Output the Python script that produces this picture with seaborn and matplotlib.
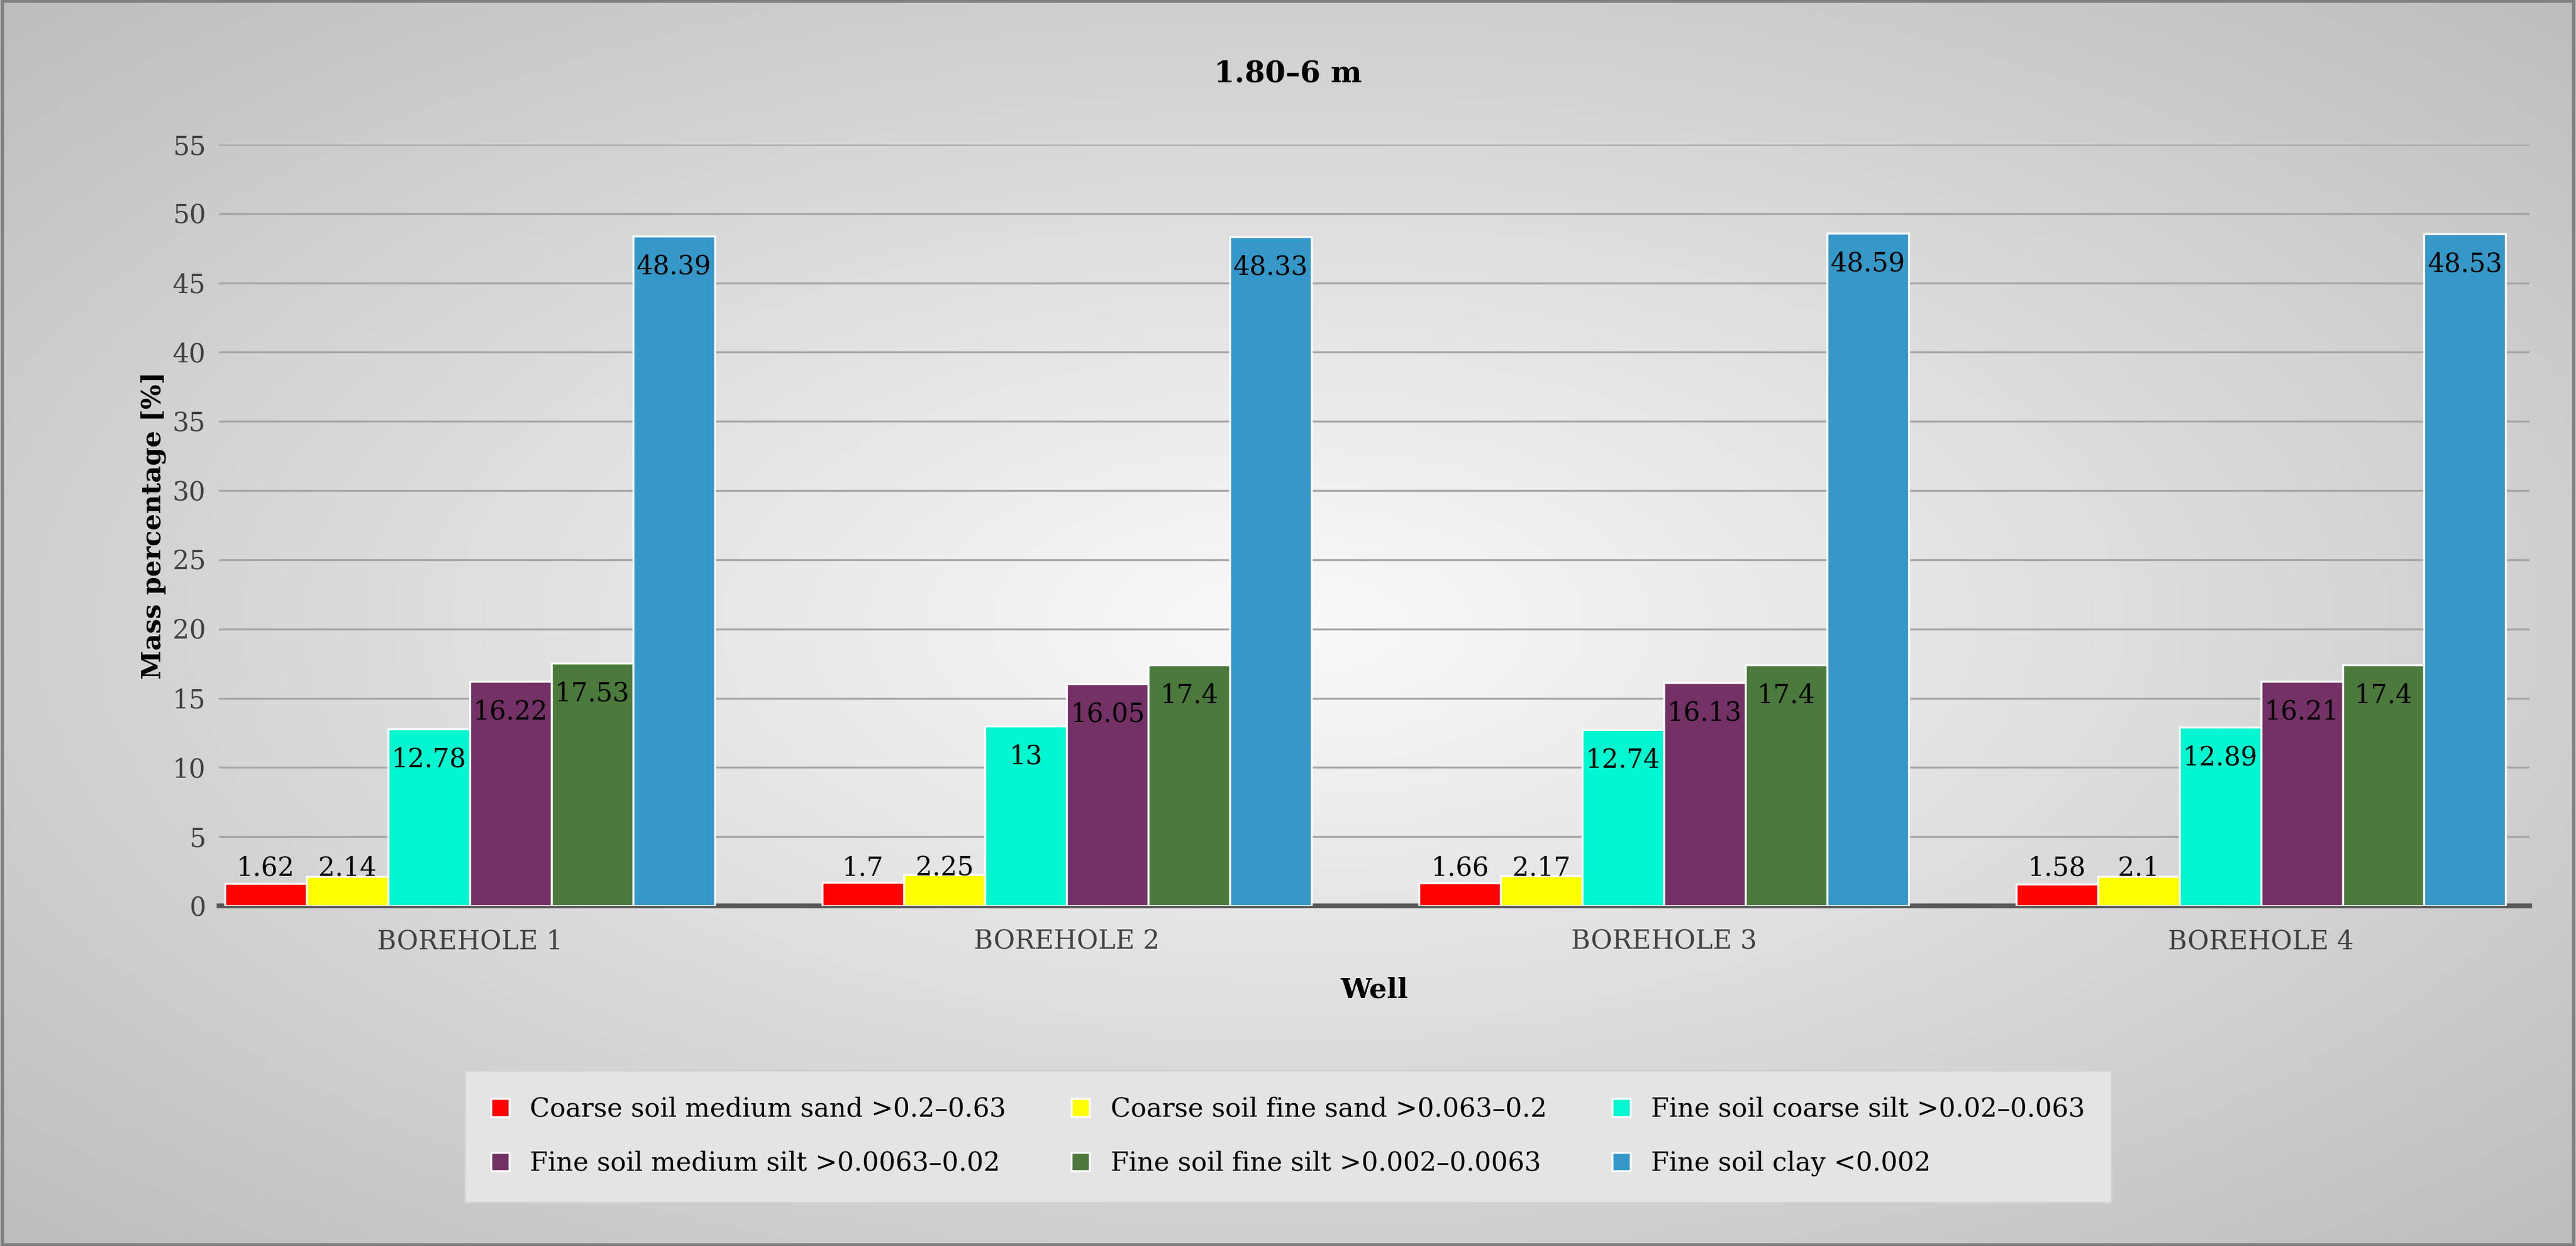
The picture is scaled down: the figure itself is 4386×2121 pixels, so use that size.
import numpy as np
import pandas as pd
import matplotlib
matplotlib.use("Agg")
import matplotlib.pyplot as plt
import seaborn as sns

wells = ["BOREHOLE 1", "BOREHOLE 2", "BOREHOLE 3", "BOREHOLE 4"]
fractions = ["Coarse soil medium sand >0.2\u20130.63", "Coarse soil fine sand >0.063\u20130.2",
             "Fine soil coarse silt >0.02\u20130.063", "Fine soil medium silt >0.0063\u20130.02",
             "Fine soil fine silt >0.002\u20130.0063", "Fine soil clay <0.002"]
medium_sand = [1.62, 1.7, 1.66, 1.58]
fine_sand = [2.14, 2.25, 2.17, 2.1]
coarse_silt = [12.78, 13, 12.74, 12.89]
medium_silt = [16.22, 16.05, 16.13, 16.21]
fine_silt = [17.53, 17.4, 17.4, 17.4]
clay = [48.39, 48.33, 48.59, 48.53]
colors = ["#ff0000", "#ffff00", "#00f7cf", "#733165", "#4b7a3c", "#3598c8"]

series = [medium_sand, fine_sand, coarse_silt, medium_silt, fine_silt, clay]
rows = []
for f, vals in zip(fractions, series):
    for w, v in zip(wells, vals):
        rows.append({"Well": w, "Fraction": f, "Value": v})
df = pd.DataFrame(rows)

font = "DejaVu Serif"
plt.rcParams["font.family"] = font
fig = plt.figure(figsize=(21.93, 10.605), dpi=200)

bg = fig.add_axes([0, 0, 1, 1], zorder=-10)
yy, xx = np.mgrid[-1:1:300j, -1:1:600j]
r = np.sqrt(xx**2 + yy**2) / np.sqrt(2)
bg.imshow(r, cmap=matplotlib.colors.LinearSegmentedColormap.from_list("g", ["#fafafa", "#bdbdbd"]),
          extent=[0, 1, 0, 1], aspect="auto", vmin=0, vmax=1)
bg.set_axis_off()
fig.patches.append(plt.Rectangle((0.001, 0.001), 0.998, 0.998, transform=fig.transFigure,
                                 fill=False, edgecolor="#7f7f7f", linewidth=2))

ax = fig.add_axes([0.085, 0.273, 0.897, 0.611])
ax.set_facecolor("none")
sns.barplot(data=df, x="Well", y="Value", hue="Fraction", palette=colors, width=0.82,
            saturation=1, edgecolor="white", linewidth=1.2, ax=ax, zorder=3)
ax.set_xlim(-0.42, 3.45)
ax.set_ylim(0, 55)
ax.set_yticks(range(0, 56, 5))
ax.yaxis.grid(True, color="#a6a6a6", linewidth=1.2, zorder=0)
ax.set_axisbelow(True)
for s in ["top", "right", "left"]:
    ax.spines[s].set_visible(False)
ax.spines["bottom"].set_color("#595959")
ax.spines["bottom"].set_linewidth(3)
ax.tick_params(axis="both", length=0, labelsize=16, colors="#404040", pad=8)
ax.tick_params(axis="x", pad=14)
ax.set_ylabel("Mass percentage [%]", fontsize=16, fontweight="bold")
ax.set_xlabel("Well", fontsize=17, fontweight="bold", labelpad=14)

for cont in ax.containers:
    for bar in cont:
        v = bar.get_height()
        ax.text(bar.get_x() + bar.get_width() / 2, max(v - 2.2, 2.7), f"{v:g}",
                ha="center", va="center", fontsize=16, color="black", zorder=5)

handles, labels = ax.get_legend_handles_labels()
ax.get_legend().remove()
order = [0, 3, 1, 4, 2, 5]
leg = fig.legend([handles[i] for i in order], [labels[i] for i in order], ncol=3,
                 loc="center", bbox_to_anchor=(0.5, 0.088), fontsize=16, frameon=True,
                 fancybox=False, handlelength=0.7, handleheight=0.7, columnspacing=2.5,
                 borderpad=1.0, labelspacing=1.1)
leg.get_frame().set_facecolor("#e4e4e4")
leg.get_frame().set_edgecolor("#d0d0d0")
leg.get_frame().set_alpha(1)

fig.text(0.5, 0.94, "1.80\u20136 m", ha="center", va="center", fontsize=18, fontweight="bold")
fig.savefig("out.png", dpi=200)
